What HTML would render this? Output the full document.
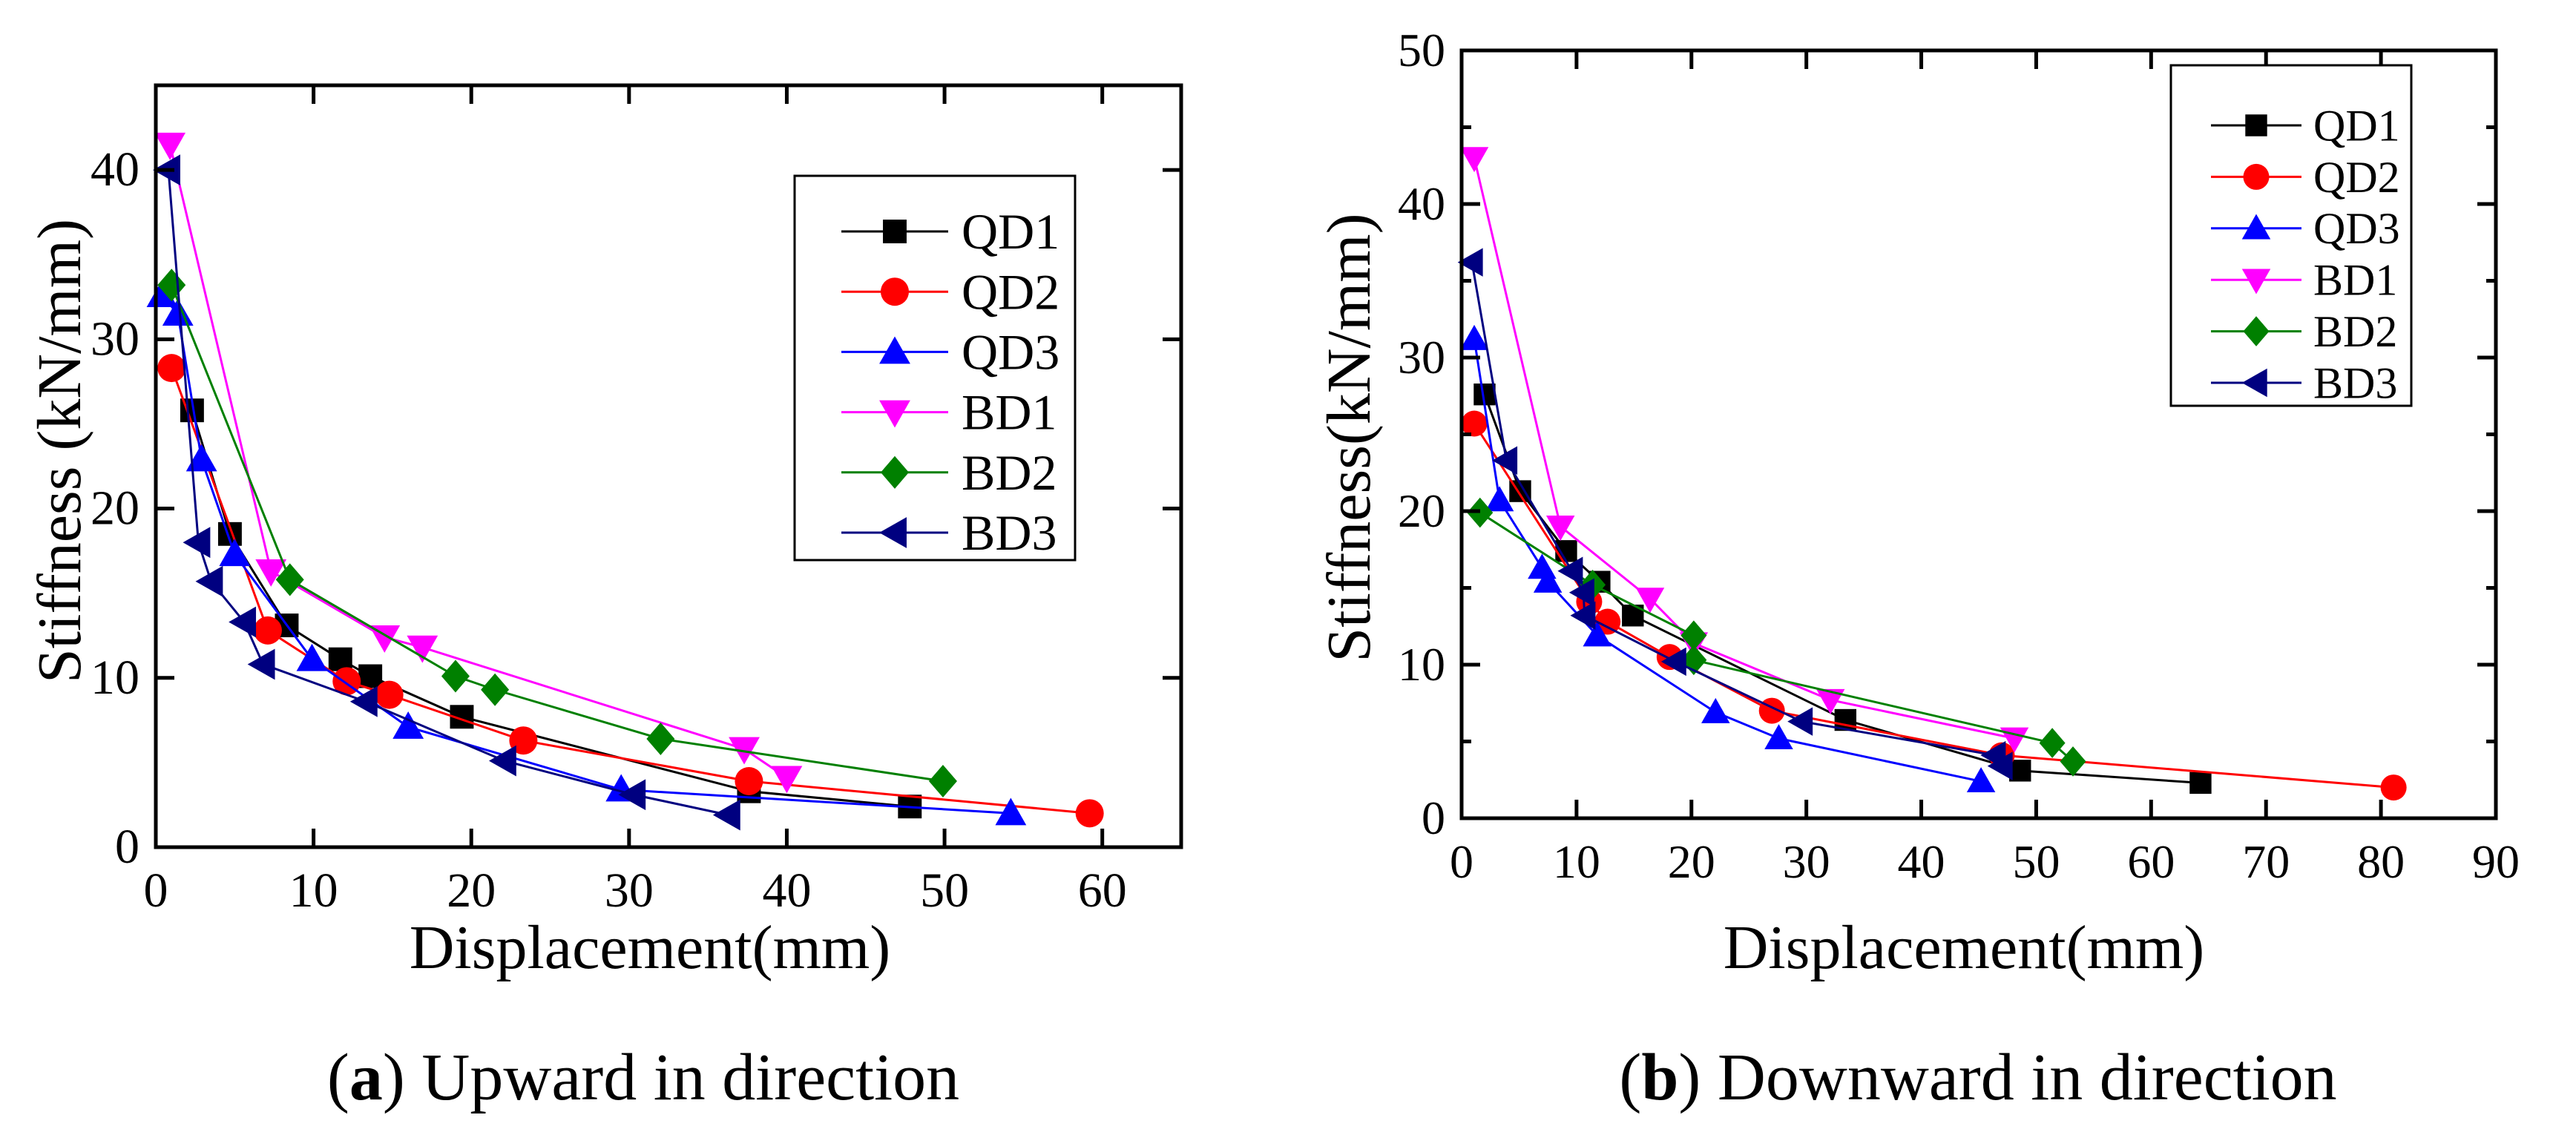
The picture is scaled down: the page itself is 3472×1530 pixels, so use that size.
<!DOCTYPE html>
<html><head><meta charset="utf-8"><style>
html,body{margin:0;padding:0;background:#fff;}
svg{display:block;font-family:"Liberation Serif",serif;}
svg text{font-family:"Liberation Serif",serif;}
</style></head><body>
<svg id="fig" width="3472" height="1530" viewBox="0 0 3472 1530" xmlns="http://www.w3.org/2000/svg" font-family="Liberation Serif, serif">
<text x="867" y="1482" font-size="90" font-family="Liberation Serif, serif" text-anchor="middle">(<tspan font-weight="bold">a</tspan>) Upward in direction</text>
<text x="2666" y="1482" font-size="90" font-family="Liberation Serif, serif" text-anchor="middle">(<tspan font-weight="bold">b</tspan>) Downward in direction</text>
</svg>
<script>
const seriesNames = ["QD1","QD2","QD3","BD1","BD2","BD3"];
const colors = ["#000000","#ff0000","#0000ff","#ff00ff","#008000","#000080"];
const markers = ["square","circle","up","down","diamond","left"];
// Chart A data
const aXTicks = [0,10,20,30,40,50,60];
const aYTicks = [0,10,20,30,40];
const aQD1x = [2.3,4.7,8.3,11.7,13.6,19.4,37.6,47.8];
const aQD1y = [25.8,18.5,13.1,11.1,10.1,7.7,3.3,2.4];
const aQD2x = [1.0,7.1,12.1,14.8,23.3,37.6,59.2];
const aQD2y = [28.3,12.8,9.8,9.0,6.3,3.9,2.0];
const aQD3x = [0.4,1.4,2.9,5.0,9.9,16.0,29.5,54.2];
const aQD3y = [32.6,31.5,22.9,17.3,11.1,7.1,3.4,2.0];
const aBD1x = [0.9,7.3,14.5,16.9,37.3,40.0];
const aBD1y = [41.5,16.3,12.4,11.8,5.8,4.1];
const aBD2x = [1.0,8.5,19.0,21.5,32.0,49.9];
const aBD2y = [33.2,15.8,10.1,9.3,6.4,3.9];
const aBD3x = [0.8,2.7,3.5,5.6,6.8,13.3,22.1,30.3,36.3];
const aBD3y = [40.0,18.0,15.7,13.3,10.8,8.6,5.1,3.1,1.9];
// Chart B data
const bXTicks = [0,10,20,30,40,50,60,70,80,90];
const bYTicks = [0,10,20,30,40,50];
const bQD1x = [2.0,5.1,9.1,12.0,14.9,33.4,48.6,64.3];
const bQD1y = [27.6,21.3,17.4,15.4,13.2,6.4,3.1,2.3];
const bQD2x = [1.1,11.1,12.7,18.1,27.0,47.0,81.1];
const bQD2y = [25.7,14.1,12.8,10.5,7.0,4.1,2.0];
const bQD3x = [1.1,3.3,7.0,7.5,11.8,22.1,27.6,45.2];
const bQD3y = [31.2,20.7,16.3,15.4,11.9,6.9,5.2,2.4];
const bBD1x = [1.1,8.6,16.4,20.2,32.1,48.1];
const bBD1y = [43.0,19.0,14.3,11.4,7.7,5.2];
const bBD2x = [1.6,11.4,20.2,20.2,51.4,53.2];
const bBD2y = [19.9,15.2,11.9,10.3,4.9,3.7];
const bBD3x = [0.9,3.9,9.6,10.6,10.7,18.6,29.6,46.4,47.0];
const bBD3y = [36.2,23.3,16.1,14.7,13.2,10.2,6.3,4.1,3.4];

const NS="http://www.w3.org/2000/svg";
const FONT="Liberation Serif, serif";
const svg=document.getElementById('fig');
function mk(tag,attrs,parent){const e=document.createElementNS(NS,tag);for(const k in attrs)e.setAttribute(k,attrs[k]);if(tag==='text')e.setAttribute('font-family',FONT);(parent||svg).appendChild(e);return e;}

function marker(g,type,cx,cy,s,color){
  let e;
  if(type==="square") e=mk('rect',{x:cx-s*0.42,y:cy-s*0.42,width:s*0.84,height:s*0.84,fill:color},g);
  else if(type==="circle") e=mk('circle',{cx:cx,cy:cy,r:s*0.5,fill:color},g);
  else if(type==="up") e=mk('polygon',{points:`${cx},${cy-s*0.55} ${cx-s*0.55},${cy+s*0.42} ${cx+s*0.55},${cy+s*0.42}`,fill:color},g);
  else if(type==="down") e=mk('polygon',{points:`${cx},${cy+s*0.55} ${cx-s*0.55},${cy-s*0.42} ${cx+s*0.55},${cy-s*0.42}`,fill:color},g);
  else if(type==="diamond") e=mk('polygon',{points:`${cx},${cy-s*0.58} ${cx+s*0.5},${cy} ${cx},${cy+s*0.58} ${cx-s*0.5},${cy}`,fill:color},g);
  else e=mk('polygon',{points:`${cx-s*0.55},${cy} ${cx+s*0.42},${cy-s*0.55} ${cx+s*0.42},${cy+s*0.55}`,fill:color},g);
  
  
  return e;
}

function chart(cfg){
  const {id,L,R,T,B,xmax,ymax,xTicks,yTicks,xs,ys,minorY,tickFont,ytitleX,ytitleY,ytitle,xtitleY,tickLabelY,leg,ms}=cfg;
  const sx=v=>L+(R-L)*v/xmax, sy=v=>B-(B-T)*v/ymax;
  const g=mk('g',{});
  
  
  for(let i=0;i<6;i++){
    const sg=mk('g',{},g);
    
    
    const pts=xs[i].map((x,j)=>sx(x)+','+sy(ys[i][j])).join(' ');
    const pl=mk('polyline',{points:pts,fill:'none',stroke:colors[i],'stroke-width':3},sg);
    
    
    xs[i].forEach((x,j)=>marker(sg,markers[i],sx(x),sy(ys[i][j]),ms,colors[i]));
  }
  const fr=mk('rect',{x:L,y:T,width:R-L,height:B-T,fill:'none',stroke:'#000','stroke-width':5},g);
  
  
  const tl=25;
  xTicks.forEach(v=>{
    const x=sx(v);
    if(v>0&&v<xmax){mk('line',{x1:x,y1:B,x2:x,y2:B-tl,stroke:'#000','stroke-width':5},g);mk('line',{x1:x,y1:T,x2:x,y2:T+tl,stroke:'#000','stroke-width':5},g);}
    const t=mk('text',{x:x,y:tickLabelY,'font-size':tickFont,'text-anchor':'middle'},g);
    t.textContent=v;
    
    
  });
  yTicks.forEach(v=>{
    const y=sy(v);
    if(v>0&&v<ymax){mk('line',{x1:L,y1:y,x2:L+tl,y2:y,stroke:'#000','stroke-width':5},g);mk('line',{x1:R,y1:y,x2:R-tl,y2:y,stroke:'#000','stroke-width':5},g);}
    const t=mk('text',{x:L-22,y:y+21,'font-size':tickFont,'text-anchor':'end'},g);
    t.textContent=v;
    
    
  });
  if(minorY){for(let v=5;v<ymax;v+=10){const y=sy(v);mk('line',{x1:L,y1:y,x2:L+13,y2:y,stroke:'#000','stroke-width':5},g);mk('line',{x1:R,y1:y,x2:R-13,y2:y,stroke:'#000','stroke-width':5},g);}}
  const xt=mk('text',{x:(L+R)/2+(cfg.xtOff||0),y:xtitleY,'font-size':84,'text-anchor':'middle'},g);
  xt.textContent='Displacement(mm)';
  
  
  const yt=mk('text',{x:ytitleX,y:ytitleY,'font-size':84,'text-anchor':'middle',transform:`rotate(-90 ${ytitleX} ${ytitleY})`},g);
  yt.textContent=ytitle;
  
  
  const lg=mk('g',{},g);
  
  
  mk('rect',{x:leg.x,y:leg.y,width:leg.w,height:leg.h,fill:'#fff',stroke:'#000','stroke-width':3},lg);
  for(let i=0;i<6;i++){
    const y=leg.y0+i*leg.dy;
    const eg=mk('g',{},lg);
    
    
    mk('line',{x1:leg.lx1,y1:y,x2:leg.lx2,y2:y,stroke:colors[i],'stroke-width':3},eg);
    marker(eg,markers[i],(leg.lx1+leg.lx2)/2,y,ms,colors[i]);
    const t=mk('text',{x:leg.tx,y:y+leg.fs*0.34,'font-size':leg.fs},eg);
    t.textContent=seriesNames[i];
  }
}
chart({id:'chart-upward',L:210,R:1592,T:115,B:1142,xmax:65,ymax:45,xTicks:aXTicks,yTicks:aYTicks,
  xs:[aQD1x,aQD2x,aQD3x,aBD1x,aBD2x,aBD3x],ys:[aQD1y,aQD2y,aQD3y,aBD1y,aBD2y,aBD3y],minorY:false,
  tickFont:66,tickLabelY:1222,xtitleY:1305,xtOff:-25,ytitleX:108,ytitleY:608,ytitle:'Stiffness (kN/mm)',ms:38,
  leg:{x:1071,y:237,w:378,h:518,y0:312,dy:81.2,lx1:1134,lx2:1278,tx:1296,fs:68}});
chart({id:'chart-downward',L:1970,R:3364,T:68,B:1103,xmax:90,ymax:50,xTicks:bXTicks,yTicks:bYTicks,
  xs:[bQD1x,bQD2x,bQD3x,bBD1x,bBD2x,bBD3x],ys:[bQD1y,bQD2y,bQD3y,bBD1y,bBD2y,bBD3y],minorY:true,
  tickFont:64,tickLabelY:1183,xtitleY:1305,xtOff:-20,ytitleX:1846,ytitleY:590,ytitle:'Stiffness(kN/mm)',ms:35,
  leg:{x:2926,y:88,w:324,h:459,y0:169,dy:69.4,lx1:2980,lx2:3102,tx:3118,fs:60}});
</script>
</body></html>
